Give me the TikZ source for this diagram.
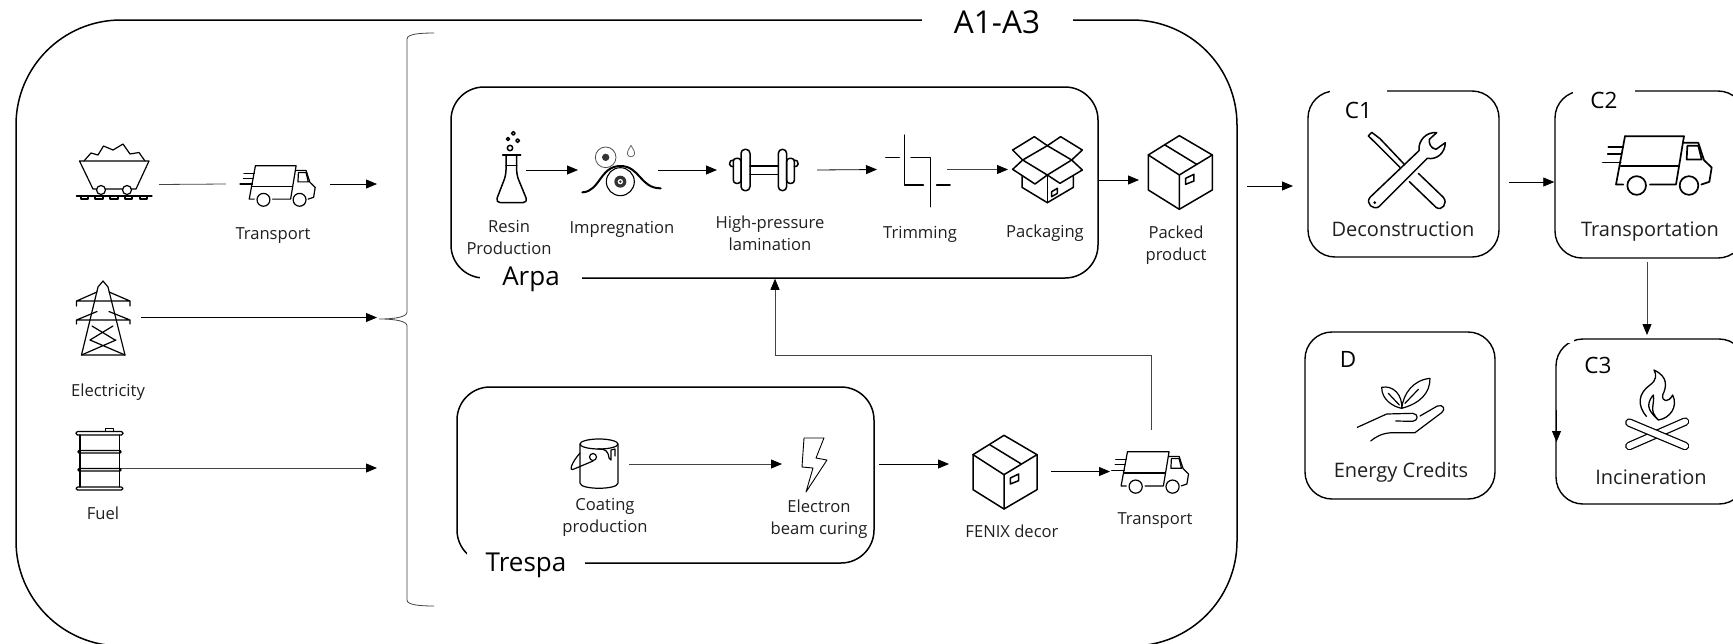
\documentclass[tikz,border=0pt]{standalone}
\usepackage{fontspec}
\setmainfont{Open Sans}
\usetikzlibrary{arrows.meta}
\definecolor{txt}{HTML}{202020}
\definecolor{thinl}{HTML}{444444}
\tikzset{
  bigbox/.style={draw=black,line width=1.5pt,rounded corners=33pt,inner sep=0pt},
  rightbox/.style={draw=black,line width=1.4pt,rounded corners=27pt,inner sep=0pt},
  holder/.style={inner sep=0pt,outer sep=0pt},
  lab/.style={text=txt,align=center,inner sep=0pt,font=\fontsize{16.6}{22}\selectfont},
  lablarge/.style={text=txt,align=center,inner sep=0pt,font=\fontsize{20}{24}\selectfont},
  head/.style={text=black,align=center,inner sep=0pt,font=\fontsize{26}{30}\selectfont},
  headfill/.style={head,fill=white},
  link/.style={draw=black,line width=.8pt,-{Triangle[length=11pt,width=9pt]}},
  linkgray/.style={draw=thinl,line width=.8pt,-{Triangle[length=11pt,width=9pt,color=black,fill=black]}},
  plain/.style={draw=thinl,line width=.8pt},
  ic/.style={draw=black,line width=1.5pt,line join=round,line cap=round,fill=none},
  icthin/.style={draw=black,line width=1.2pt,line join=round,line cap=round,fill=none},
  zb/.style={shift={(440,80)},scale=.33333},
  zc/.style={shift={(840,80)},scale=.33333},
  ze/.style={shift={(1280,80)},scale=.33333},
  zf/.style={shift={(1280,310)},scale=.33333},
  truckpic/.pic={
    \begin{scope}[shift={(-1131,-256)}]
      \path[pic actions] (1035,168) -- (1212,168) -- (1188,313) -- (1110,313);
      \path[pic actions] (1035,168) -- (1008,313) -- (1030,313);
      \path[pic actions] (1022,258) -- (1195,258);
      \path[pic actions] (1070,316) circle (28);
      \path[pic actions] (1227,316) circle (28);
      \path[pic actions] (1210,188) -- (1255,188) -- (1272,240) -- (1295,262) -- (1288,305) -- (1264,313);
      \path[pic actions] (1222,197) -- (1255,197) -- (1265,238) -- (1220,238) -- cycle;
      \path[pic actions] (985,200) -- (1030,200) (983,222) -- (1025,222) (968,247) -- (1022,247);
    \end{scope}
  },
  cratepic/.pic={
    \begin{scope}[shift={(-1021,-277)}]
      \path[pic actions] (1018,167) -- (1117,225) -- (1117,330) -- (1018,388) -- (925,330) -- (925,225) -- cycle;
      \path[pic actions] (925,225) -- (1018,285) -- (1117,225) (1018,285) -- (1018,388);
      \path[pic actions] (975,195) -- (1070,253);
      \path[pic actions] (1037,295) -- (1062,283) -- (1062,303) -- (1037,313) -- cycle;
    \end{scope}
  }
}
\begin{document}
\begin{tikzpicture}[x=1pt,y=-1pt]
\clip (0,0) rectangle (1733,643);
\fill[white] (0,0) rectangle (1733,643);

% ---------- containers ----------
\node[bigbox,rounded corners=105pt,minimum width=1221pt,minimum height=626pt] (outer) at (626.5,333) {};
\node[bigbox,minimum width=647pt,minimum height=191pt] (arpa) at (774.5,182.5) {};
\node[bigbox,minimum width=417pt,minimum height=176pt] (trespa) at (665.5,475) {};
\node[rightbox,minimum width=191pt,minimum height=166pt] (cone) at (1403.5,174) {};
\node[rightbox,minimum width=190pt,minimum height=167pt] (ctwo) at (1650,174.5) {};
\node[rightbox,minimum width=190pt,minimum height=167pt] (dbox) at (1400,415.5) {};
\node[rightbox,minimum width=190pt,minimum height=165pt] (cthree) at (1651,421.5) {};
\fill[white] (1567,335) rectangle (1574,343.2);

% headings that interrupt the box outlines
\node[headfill,font=\fontsize{31.5}{36}\selectfont,minimum width=151pt,minimum height=20pt] (atitle) at (997,22) {A1-A3};
\node[headfill,minimum width=102pt,minimum height=22pt] (arpatitle) at (531,279) {Arpa};
\node[headfill,minimum width=118pt,minimum height=22pt] (trespatitle) at (526,565) {Trespa};
\node[headfill,font=\fontsize{22.5}{26}\selectfont,minimum width=57pt,minimum height=40pt] (conetitle) at (1358.5,110) {C1};
\node[headfill,font=\fontsize{22.5}{26}\selectfont,minimum width=62pt,minimum height=28pt] (ctwotitle) at (1604,100) {C2};
\node[head,font=\fontsize{22.5}{26}\selectfont] (dtitle) at (1348,359) {D};
\node[head,font=\fontsize{22.5}{26}\selectfont] (cthreetitle) at (1598,365) {C3};

% ---------- brace ----------
\draw[draw=thinl,line width=.8pt] (434,33) .. controls (420,33) and (407,34) .. (407,39) -- (407,312)
  .. controls (407,317) and (395,319) .. (379,319) .. controls (395,319) and (407,321) .. (407,326)
  -- (407,600) .. controls (407,605) and (420,606) .. (434,606);

% ---------- icon holders, used as connector ends ----------
\node[holder,minimum width=100pt,minimum height=60pt] (cart) at (109,184.5) {};
\node[holder,minimum width=104pt,minimum height=60pt] (truckone) at (278,184) {};
\node[holder,minimum width=50pt,minimum height=80pt] (pylon) at (116,317.5) {};
\node[holder,minimum width=50pt,minimum height=60pt] (barrel) at (95,468) {};
\node[holder,minimum width=40pt,minimum height=60pt] (flask) at (506,170) {};
\node[holder,minimum width=80pt,minimum height=60pt] (roller) at (618,170) {};
\node[holder,minimum width=100pt,minimum height=60pt] (dumbbell) at (767,170) {};
\node[holder,minimum width=70pt,minimum height=60pt] (trim) at (912,169.5) {};
\node[holder,minimum width=70pt,minimum height=60pt] (openbox) at (1043,169.5) {};
\node[holder,minimum width=74pt,minimum height=74pt] (packed) at (1176,180) {};
\node[holder,minimum width=50pt,minimum height=50pt] (can) at (604,464) {};
\node[holder,minimum width=44pt,minimum height=50pt] (bolt) at (804,464) {};
\node[holder,minimum width=102pt,minimum height=74pt] (fenix) at (1000,468) {};
\node[holder,minimum width=82pt,minimum height=83pt] (trucktwo) at (1151,471.5) {};

\coordinate (ina) at (377,184);
\coordinate (inb) at (377,317.5);
\coordinate (inc) at (377,468);
\coordinate (aout) at (1247,186);
\coordinate (conein) at (1293,186);
\coordinate (coneout) at (1509,182);
\coordinate (ctwoout) at (1647,262);
\coordinate (cthreein) at (1647,335);
\coordinate (backstart) at (1556.5,410);
\coordinate (backend) at (1556.5,442);
\coordinate (tresout) at (879,464);
\coordinate (fb) at (775,355);

% ---------- connectors ----------
\draw[plain] (cart.east) -- (truckone.west);
\draw[link] (truckone.east) -- (ina);
\draw[link] (pylon.east) -- (inb);
\draw[linkgray] (barrel.east) -- (inc);
\draw[link] (flask.east) -- (roller.west);
\draw[link] (roller.east) -- (dumbbell.west);
\draw[link] (dumbbell.east) -- (trim.west);
\draw[linkgray] (trim.east) -- (openbox.west);
\draw[link] (arpa.east |- packed.west) -- (packed.west);
\draw[link] (aout) -- (conein);
\draw[link] (coneout) -- (ctwo.west |- coneout);
\draw[linkgray] (ctwoout) -- (cthreein);
\draw[link] (backstart) -- (backend);
\draw[linkgray] (can.east) -- (bolt.west);
\draw[link] (tresout) -- (fenix.west |- tresout);
\draw[link] (fenix.east |- trucktwo.west) -- (trucktwo.west);
\draw[linkgray] (trucktwo.north) |- (fb) -- (arpa.south -| fb);

% ---------- labels ----------
\node[lab] (ltruckone) at (273,235.5) {Transport};
\node[lab] (lelec) at (108,392) {Electricity};
\node[lab] (lfuel) at (103,513) {Fuel};
\node[lab] (lresin) at (509,237.5) {Resin\\Production};
\node[lab] (limp) at (622,229.5) {Impregnation};
\node[lab] (lhigh) at (770,233.5) {High-pressure\\lamination};
\node[lab] (ltrim) at (920,234.5) {Trimming};
\node[lab] (lpack) at (1045,233) {Packaging};
\node[lab] (lpacked) at (1176,245) {Packed\\product};
\node[lab] (lcoat) at (605,517.5) {Coating\\production};
\node[lab] (lbeam) at (819,519) {Electron\\beam curing};
\node[lab] (lfenix) at (1012,531) {FENIX decor};
\node[lab] (ltrucktwo) at (1155,521) {Transport};
\node[lablarge] (ldecon) at (1403,229) {Deconstruction};
\node[lablarge] (ltransp) at (1650,232) {Transportation};
\node[lablarge] (lenergy) at (1401,472) {Energy Credits};
\node[lablarge] (lincin) at (1651,477) {Incineration};

% ---------- icons ----------
% ore cart
\begin{scope}[icthin]
  \draw (79.5,161) -- (149,161) (79.5,161) -- (93,189) -- (136,189) -- (149,161);
  \draw (84,161) -- (91,153) -- (98,155) -- (103.5,146) -- (113,150) -- (123,144) -- (130,154) -- (139,152.5) -- (145,161);
  \draw[fill=white] (101,190) circle (4.5) (127,190) circle (4.5);
  \draw (76.5,196) -- (152,196);
  \foreach \a/\b in {81/88,95/103,110/118,125/132,140/147} \draw (\a,196) rectangle (\b,199);
\end{scope}
% pylon
\begin{scope}[icthin]
  \draw (81.5,355) -- (98,287) -- (103,281) -- (108,287) -- (125,355) -- cycle;
  \draw (76.5,306) -- (76.5,301) -- (97,292) (109,292) -- (130,301) -- (130,306) (76.5,301) -- (130,301);
  \draw (76.5,324) -- (76.5,320) -- (97,311.5) (109,311.5) -- (130,320) -- (130,324) (76.5,320) -- (130,320);
  \draw (92,326) -- (115,340) (113,326) -- (90,340) (90,340) -- (125,355) (116,340) -- (81.5,355);
\end{scope}
% barrel
\begin{scope}[icthin]
  \draw[rounded corners=1.5pt] (76,431.5) rectangle (123,435);
  \draw (105.5,431.5) -- (105.5,428.5) -- (113.5,428.5) -- (113.5,431.5);
  \draw (80,435) -- (80,487) (119.5,435) -- (119.5,487);
  \draw[rounded corners=1pt] (78,450.5) rectangle (121,453);
  \draw[rounded corners=1pt] (78,468.5) rectangle (121,471);
  \draw[rounded corners=1.5pt] (76,487) rectangle (123,490);
\end{scope}
\pic[icthin,scale=.23] at (277.5,186) {truckpic};
\pic[ic,line width=1.7pt,scale=.33333] at (1657,165.5) {truckpic};
\pic[icthin,scale=.235] at (1150,472.5) {truckpic};
% flask and bubbles
\begin{scope}[zb,ic]
  \draw (188,225) -- (242,225);
  \draw[rounded corners=5pt] (198,225) -- (198,285) -- (166,368) -- (264,368) -- (230,285) -- (230,225);
  \draw (198,257) -- (230,257);
  \draw (210,204) circle (8) (204,177) circle (5) (233,182) circle (5.5) (220,160) circle (5.5);
\end{scope}
% impregnation rollers
\begin{scope}[zb]
  \draw[line width=.8pt,draw=black!70] (497,232) circle (31);
  \fill[black!80] (497,232) circle (11);
  \draw[line width=1.1pt,black] (541,305) circle (42);
  \fill[black!80] (541,305) circle (18);
  \fill[white] (541,305) circle (8);
  \fill[black!80] (541,305) circle (4);
  \draw[line width=.8pt,draw=black!60,line join=round] (573,196) .. controls (582,212) and (586,217) .. (584,222) .. controls (581,233) and (565,233) .. (562,222) .. controls (560,217) and (564,212) .. (573,196) -- cycle;
  \draw[line width=2pt,line cap=round] (427,337) .. controls (480,335) and (480,258) .. (541,258) .. controls (600,258) and (600,325) .. (662,325);
\end{scope}
% dumbbell
\begin{scope}[zb,ic]
  \draw[rounded corners=4pt] (903,208) rectangle (930,332);
  \draw[rounded corners=4pt] (1015,208) rectangle (1040,332);
  \draw[rounded corners=3pt] (880,235) rectangle (903,310);
  \draw[rounded corners=3pt] (1040,235) rectangle (1063,310);
  \draw (930,258) -- (1015,258) (930,283) -- (1015,283);
  \draw (880,260) arc[start angle=80,end angle=280,radius=10];
  \draw (1063,260) arc[start angle=100,end angle=-100,radius=10];
\end{scope}
% trimming
\begin{scope}[zc,ic]
  \draw (193,165) -- (193,315) -- (250,315);
  \draw (137,232) -- (178,232);
  \draw (213,232) -- (272,232) -- (272,380);
  \draw (290,315) -- (330,315);
\end{scope}
% open box
\begin{scope}[zc,ic]
  \draw (622,197) -- (695,240) -- (622,285) -- (548,240) -- cycle;
  \draw (548,240) -- (518,210) -- (583,170) -- (622,197);
  \draw (622,197) -- (662,170) -- (727,210) -- (695,240);
  \draw (548,240) -- (518,268) -- (585,312) -- (622,285);
  \draw (695,240) -- (727,270) -- (660,310) -- (622,285);
  \draw (546,290) -- (546,322) -- (622,368) -- (700,322) -- (700,290);
  \draw (622,285) -- (622,368);
  \draw (635,335) -- (652,325) -- (652,340) -- (635,350) -- cycle;
\end{scope}
\pic[ic,scale=.33333] at (1180.3,172.3) {cratepic};
\pic[ic,scale=.33333] at (1005,472) {cratepic};
% paint can
\begin{scope}[icthin]
  \draw (599,444) ellipse (19 and 5);
  \draw (580,444) -- (580,483) .. controls (580,490) and (618,490) .. (618,483) -- (618,444);
  \draw (580,453) .. controls (572,462) and (568,472) .. (574,469) -- (593,461);
  \draw (593,457) circle (3.5);
  \draw (598,449) .. controls (606,449) and (608,451) .. (609,458) -- (611,460) -- (611,450) -- (615,449) -- (615,456);
\end{scope}
% lightning
\draw[draw=black,line width=.9pt,line join=round] (804,438) -- (824,438) -- (816,458) -- (827,460) -- (806,492) -- (813,468) -- (802,467) -- cycle;
% tools
\begin{scope}[ze,ic]
  \draw (265,168) -- (275,157) -- (300,176) -- (372,252);
  \draw (265,168) -- (288,190) -- (360,262);
  \draw (415,280) -- (490,352) .. controls (505,370) and (485,395) .. (468,382) -- (388,305);
  \draw (270,352) -- (417,212) .. controls (414,180) and (440,155) .. (470,158) -- (448,178) .. controls (446,190) and (452,205) .. (468,208) -- (496,188) .. controls (495,220) and (470,240) .. (442,235) -- (297,380) .. controls (280,392) and (255,370) .. (270,352) -- cycle;
  \fill (284,368) circle (4.5);
\end{scope}
% plant in hand
\begin{scope}[zf,icthin]
  \draw (365,295) .. controls (340,290) and (305,270) .. (305,232) .. controls (340,225) and (368,255) .. (365,295);
  \draw (325,250) -- (358,285);
  \draw (365,295) .. controls (370,250) and (400,210) .. (450,205) .. controls (450,250) and (420,280) .. (365,295);
  \draw (415,238) -- (375,280);
  \draw (232,352) -- (320,312) -- (398,310) .. controls (417,312) and (415,332) .. (398,334) -- (347,333);
  \draw (420,318) -- (472,288) .. controls (490,282) and (498,298) .. (485,308) -- (405,368) -- (335,368) .. controls (305,370) and (288,380) .. (272,393);
\end{scope}
% camp fire
\begin{scope}[zf]
  \draw[line width=1.3pt,line join=round] (1100,320) .. controls (1070,285) and (1075,250) .. (1110,225) .. controls (1130,210) and (1130,195) .. (1122,180) .. controls (1165,200) and (1160,230) .. (1148,255) .. controls (1145,275) and (1165,280) .. (1178,255) .. controls (1195,290) and (1170,325) .. (1135,330) .. controls (1115,310) and (1090,290) .. (1120,255) .. controls (1125,285) and (1105,300) .. (1135,330);
  \draw[line width=8.5pt,line cap=round,black] (1215,335) -- (1048,408);
  \draw[line width=6pt,line cap=round,white] (1215,335) -- (1048,408);
  \draw[line width=8.5pt,line cap=round,black] (1048,338) -- (1215,408);
  \draw[line width=6pt,line cap=round,white] (1048,338) -- (1215,408);
\end{scope}
\end{tikzpicture}
\end{document}
